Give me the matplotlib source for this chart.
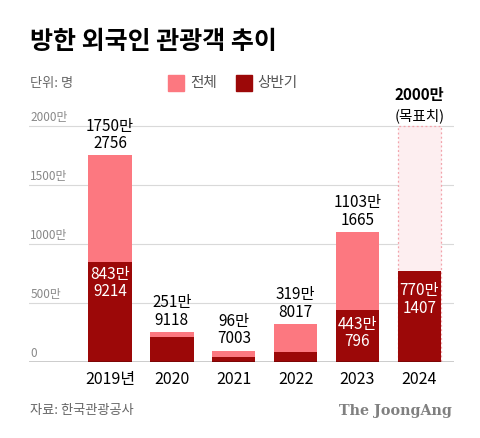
import numpy as np
import matplotlib.pyplot as plt
from matplotlib.patches import Rectangle

plt.rcParams['font.family'] = ['Noto Sans CJK KR', 'DejaVu Sans']

# 데이터 (단위: 만 명)
years = ['2019년', '2020', '2021', '2022', '2023', '2024']
total = [1750.2756, 251.9118, 96.7003, 319.8017, 1103.1665, np.nan]
half = [843.9214, 213, 40, 81, 443.0796, 770.1407]
total_labels = ['1750만\n2756', '251만\n9118', '96만\n7003', '319만\n8017', '1103만\n1665', '']
half_labels = ['843만\n9214', '', '', '', '443만\n796', '770만\n1407']
target = 2000
yticks = [0, 500, 1000, 1500, 2000]
ytick_labels = ['0', '500만', '1000만', '1500만', '2000만']

light = '#fc7880'
dark = '#9c0808'

fig = plt.figure(figsize=(4.8, 4.39), dpi=100)
ax = fig.add_axes([0.0604, 0.1731, 0.8854, 0.5913])

x = np.arange(len(years))
w = 0.7

# 2024 목표치 박스
ax.bar(x[5], target, width=w, color='#fdeef0', edgecolor='#f2a3ab',
       linewidth=0.9, linestyle=(0, (1.5, 2)), zorder=2)

ax.bar(x, total, width=w, color=light, zorder=3)
ax.bar(x, half, width=w, color=dark, zorder=4)

for xi, t, lab in zip(x, total, total_labels):
    if lab:
        ax.annotate(lab, (xi, t), xytext=(0, 3), textcoords='offset points',
                    ha='center', va='bottom', fontsize=11, color='black',
                    linespacing=1.05, zorder=5)
inner_pad = [-1.5, 0, 0, 0, -3.5, -7]
for xi, h, lab, p in zip(x, half, half_labels, inner_pad):
    if lab:
        ax.annotate(lab, (xi, h), xytext=(0, p), textcoords='offset points',
                    ha='center', va='top', fontsize=11, color='white',
                    linespacing=1.05, zorder=5)

ax.annotate('(목표치)', (x[5], target), xytext=(0, 3), textcoords='offset points',
            ha='center', va='bottom', fontsize=10.5, color='black')
ax.annotate('2000만', (x[5], target), xytext=(0, 17), textcoords='offset points',
            ha='center', va='bottom', fontsize=11, fontweight='bold', color='black')

ax.set_xlim(-1.31, 5.56)
ax.set_ylim(0, 2200)

# 눈금선과 눈금 라벨
for yv, yl in zip(yticks, ytick_labels):
    if yv > 0:
        ax.axhline(yv, color='#d9d9d9', linewidth=0.8, zorder=1)
    ax.annotate(yl, (-1.31, yv), xytext=(1, 2), textcoords='offset points',
                ha='left', va='bottom', fontsize=8.5, color='#888888')
ax.axhline(0, color='black', linewidth=1.0, zorder=6)

ax.set_yticks([])
ax.set_xticks(x)
ax.set_xticklabels(years, fontsize=11.5)
ax.tick_params(axis='x', length=0, pad=6)
for s in ax.spines.values():
    s.set_visible(False)

# 제목, 단위, 범례, 출처
fig.text(0.062, 0.905, '방한 외국인 관광객 추이', fontsize=18, fontweight='bold',
         ha='left', va='center')
fig.text(0.062, 0.81, '단위: 명', fontsize=9.5, color='#666666', ha='left', va='center')
fig.patches.append(Rectangle((168 / 480, 1 - 92 / 439), 16 / 480, 16 / 439,
                             transform=fig.transFigure, color=light))
fig.text(190 / 480, 0.81, '전체', fontsize=10.5, color='#555555', ha='left', va='center')
fig.patches.append(Rectangle((236 / 480, 1 - 92 / 439), 16 / 480, 16 / 439,
                             transform=fig.transFigure, color=dark))
fig.text(257 / 480, 0.81, '상반기', fontsize=10.5, color='#555555', ha='left', va='center')

fig.text(0.062, 1 - 411 / 439, '자료: 한국관광공사', fontsize=9.5, color='#666666',
         ha='left', va='center')
fig.text(452 / 480, 1 - 411 / 439, 'The JoongAng', fontsize=10.3, fontweight='bold',
         family='DejaVu Serif', color='#808080', ha='right', va='center')

fig.savefig('out.png', dpi=100)
